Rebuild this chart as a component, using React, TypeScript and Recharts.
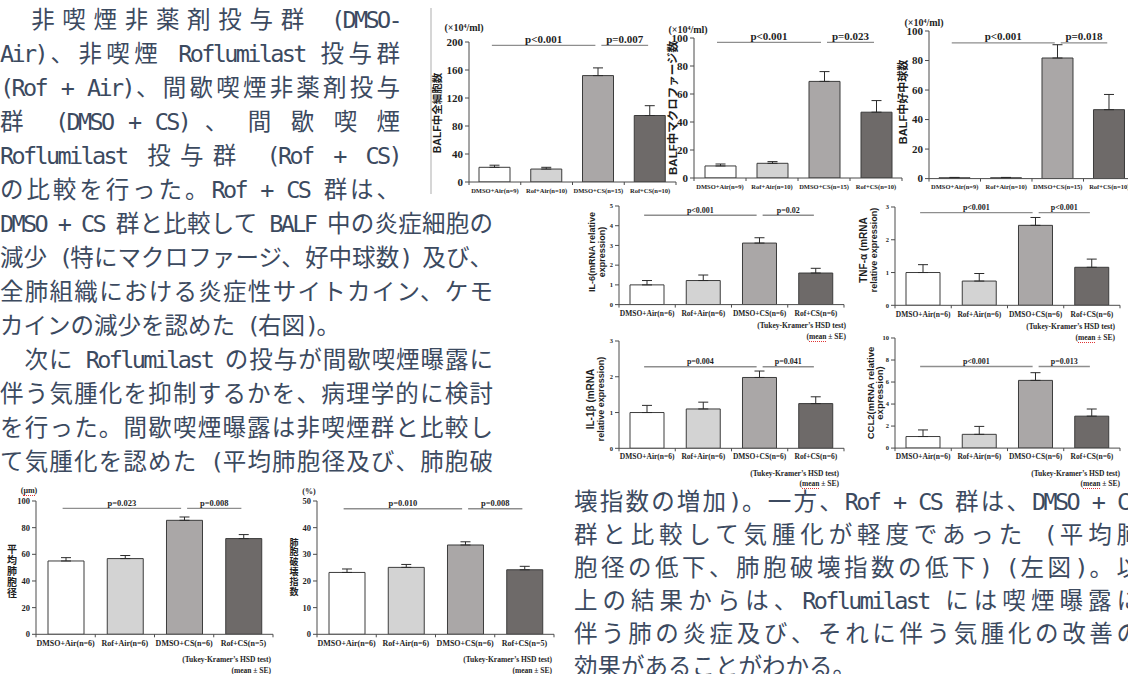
import React from 'react';
import { BarChart, Bar, XAxis, YAxis, Cell, ErrorBar, ReferenceLine } from 'recharts';

// ---------- data ----------
const balfGroups = ['DMSO+Air(n=9)', 'Rof+Air(n=10)', 'DMSO+CS(n=15)', 'Rof+CS(n=10)'];
const balfTotal = [21, 18.5, 152, 95];
const balfTotalSE = [3, 2.5, 11, 14];
const balfTotalTicks = [0, 40, 80, 120, 160, 200];
const balfMacro = [8.6, 10.5, 69, 47];
const balfMacroSE = [1.4, 1.2, 7, 8.3];
const balfNeutro = [0.6, 0.6, 81.7, 46.7];
const balfNeutroSE = [0.2, 0.2, 9, 10.3];
const balfCountTicks = [0, 20, 40, 60, 80, 100];

const mrnaGroups = ['DMSO+Air(n=6)', 'Rof+Air(n=6)', 'DMSO+CS(n=6)', 'Rof+CS(n=6)'];
const il6 = [1.0, 1.22, 3.12, 1.6];
const il6SE = [0.22, 0.28, 0.27, 0.24];
const il6Ticks = [0, 1, 2, 3, 4, 5];
const tnfa = [1.0, 0.74, 2.44, 1.16];
const tnfaSE = [0.24, 0.23, 0.24, 0.25];
const tnfaTicks = [0, 1, 2, 3];
const il1b = [1.0, 1.1, 1.98, 1.25];
const il1bSE = [0.2, 0.19, 0.18, 0.19];
const il1bTicks = [0, 1, 2, 3];
const ccl2 = [1.05, 1.25, 6.15, 2.9];
const ccl2SE = [0.6, 0.72, 0.7, 0.65];
const ccl2Ticks = [0, 2, 4, 6, 8, 10];

const histGroups = ['DMSO+Air(n=6)', 'Rof+Air(n=6)', 'DMSO+CS(n=6)', 'Rof+CS(n=5)'];
const meanLinearIntercept = [55, 56.8, 85.5, 71.8];
const meanLinearInterceptSE = [2.5, 2.3, 2.5, 3];
const mliTicks = [0, 20, 40, 60, 80, 100];
const destructiveIndex = [23.2, 25.1, 33.5, 24.2];
const destructiveIndexSE = [1.3, 1.1, 1.2, 1.3];
const diTicks = [0, 10, 20, 30, 40, 50];

const pTotal = ['p<0.001', 'p=0.007'];
const pMacro = ['p<0.001', 'p=0.023'];
const pNeutro = ['p<0.001', 'p=0.018'];
const pIl6 = ['p<0.001', 'p=0.02'];
const pTnfa = ['p<0.001', 'p<0.001'];
const pIl1b = ['p=0.004', 'p=0.041'];
const pCcl2 = ['p<0.001', 'p=0.013'];
const pMli = ['p=0.023', 'p=0.008'];
const pDi = ['p=0.010', 'p=0.008'];

const introLines = [
  '　非喫煙非薬剤投与群 (DMSO-',
  'Air)、非喫煙 Roflumilast 投与群',
  '(Rof + Air)、間歇喫煙非薬剤投与',
  '群　(DMSO + CS) 、 間 歇 喫 煙',
  'Roflumilast 投与群 (Rof + CS)',
  'の比較を行った。Rof + CS 群は、',
];
const middleLines = [
  'DMSO + CS 群と比較して BALF 中の炎症細胞の',
  '減少 (特にマクロファージ、好中球数) 及び、',
  '全肺組織における炎症性サイトカイン、ケモ',
  'カインの減少を認めた (右図)。',
  '　次に Roflumilast の投与が間歇喫煙曝露に',
  '伴う気腫化を抑制するかを、病理学的に検討',
  'を行った。間歇喫煙曝露は非喫煙群と比較し',
  'て気腫化を認めた (平均肺胞径及び、肺胞破',
];
const closingLines = [
  '壊指数の増加)。一方、Rof + CS 群は、DMSO + CS',
  '群と比較して気腫化が軽度であった (平均肺',
  '胞径の低下、肺胞破壊指数の低下) (左図)。以',
  '上の結果からは、Roflumilast には喫煙曝露に',
  '伴う肺の炎症及び、それに伴う気腫化の改善の',
  '効果があることがわかる。',
];

// ---------- styles ----------
const BAR_FILLS = ['#ffffff', '#d3d3d3', '#aaa7a7', '#6e6a69'];
const INK = '#3c4a5f';
const AXIS = '#4a4a4a';
const SERIF = "'Liberation Serif', 'Times New Roman', serif";
const SANS = "'Liberation Sans', Arial, 'Noto Sans CJK JP', sans-serif";
const BODY = "'Noto Sans CJK JP', sans-serif";
const BODY_SIZE = 23.5;
const LATIN: React.CSSProperties = { fontFamily: "'DejaVu Sans Mono', monospace", letterSpacing: '-2.65px' };

type Box = { x0: number; x1: number; yTop: number; yZero: number };
type PanelProps = {
  groups: string[];
  values: number[];
  errors: number[];
  ticks: number[];
  pTexts: string[];
  pAt: number;
  box: Box;
  barSize: number;
  tickFont: number;
  catFont: number;
  catGap: number;
  pFont: number;
};

function CategoryTick(props: any) {
  const { x, y, payload, band, count, size, gap } = props;
  const idx = payload && typeof payload.index === 'number' ? payload.index : props.index;
  return (
    <g>
      <line x1={x - band / 2} y1={y} x2={x - band / 2} y2={y + 3} stroke={AXIS} />
      {idx === count - 1 && <line x1={x + band / 2} y1={y} x2={x + band / 2} y2={y + 3} stroke={AXIS} />}
      <text
        x={x}
        y={y + gap}
        textAnchor="middle"
        dominantBaseline="central"
        fontFamily={SERIF}
        fontWeight={700}
        fontSize={size}
        fill="#1e1e1e"
      >
        {payload.value}
      </text>
    </g>
  );
}

function Bracket(props: any) {
  const { x1, y1, x2, text, size, padL, padR } = props;
  const a = x1 + padL;
  const b = x2 + padR;
  return (
    <g>
      <line x1={a} y1={y1} x2={b} y2={y1} stroke="#8e8e8e" strokeWidth={1.3} />
      <text x={(a + b) / 2} y={y1 - 2.5} textAnchor="middle" fontFamily={SERIF} fontWeight={700} fontSize={size} fill="#1e1e1e">
        {text}
      </text>
    </g>
  );
}

function Panel(p: PanelProps) {
  const ML = 44;
  const MR = 14;
  const MT = 44;
  const MB = 24;
  const { x0, x1, yTop, yZero } = p.box;
  const width = x1 - x0 + ML + MR;
  const height = yZero - yTop + MT + MB;
  const band = (x1 - x0) / p.groups.length;
  const data = p.groups.map((name, i) => ({ name, value: p.values[i], err: [0, p.errors[i]] }));
  const max = p.ticks[p.ticks.length - 1];
  const spans = [
    [0, 2, -3, -3],
    [2, 3, 3, -2],
  ];
  return (
    <div style={{ position: 'absolute', left: x0 - ML, top: yTop - MT, width, height }}>
      <BarChart width={width} height={height} data={data} margin={{ top: MT, right: MR, bottom: 0, left: 0 }}>
        <XAxis
          dataKey="name"
          type="category"
          interval={0}
          height={MB}
          tickSize={0}
          tickMargin={0}
          tickLine={false}
          axisLine={{ stroke: AXIS, strokeWidth: 1 }}
          tick={(t: any) => (
            <CategoryTick {...t} band={band} count={p.groups.length} size={p.catFont} gap={p.catGap} />
          )}
        />
        <YAxis
          type="number"
          domain={[0, max]}
          ticks={p.ticks}
          interval={0}
          width={ML}
          allowDataOverflow
          tickSize={4}
          tickMargin={2}
          axisLine={{ stroke: AXIS }}
          tickLine={{ stroke: AXIS }}
          tick={{ fontSize: p.tickFont, fontFamily: SERIF, fontWeight: 700, fill: '#1e1e1e' }}
        />
        <Bar dataKey="value" barSize={p.barSize} isAnimationActive={false} stroke="#3b3b3b" strokeWidth={1}>
          {data.map((_, i) => (
            <Cell key={i} fill={BAR_FILLS[i]} />
          ))}
          <ErrorBar dataKey="err" width={5} stroke="#2a2a2a" strokeWidth={1} />
        </Bar>
        {spans.map(([from, to, padL, padR], i) => (
          <ReferenceLine
            key={i}
            ifOverflow="visible"
            segment={[
              { x: p.groups[from], y: p.pAt },
              { x: p.groups[to], y: p.pAt },
            ]}
            shape={(s: any) => <Bracket {...s} text={p.pTexts[i]} size={p.pFont} padL={padL} padR={padR} />}
          />
        ))}
      </BarChart>
    </div>
  );
}

// ---------- overlay text helpers ----------
function Label(props: {
  x: number;
  y: number;
  size: number;
  children: React.ReactNode;
  anchor?: 'start' | 'middle' | 'end';
  rotate?: number;
  family?: string;
  lineHeight?: number;
}) {
  const { x, y, size, anchor = 'middle', rotate = 0, family = SERIF, lineHeight } = props;
  const tx = anchor === 'middle' ? '-50%' : anchor === 'end' ? '-100%' : '0';
  return (
    <div
      style={{
        position: 'absolute',
        left: x,
        top: y,
        transform: `translate(${tx}, -50%) rotate(${rotate}deg)`,
        fontFamily: family,
        fontWeight: 700,
        fontSize: size,
        lineHeight: lineHeight ? `${lineHeight}px` : 1.1,
        color: '#1e1e1e',
        whiteSpace: 'nowrap',
        textAlign: 'center',
      }}
    >
      {props.children}
    </div>
  );
}

// upright characters stacked top to bottom, one text block
function VerticalLabel({ x, y, size, pitch, text }: { x: number; y: number; size: number; pitch: number; text: string }) {
  const chars = Array.from(text);
  const h = chars.length * pitch;
  return (
    <div
      style={{
        position: 'absolute',
        left: x - size / 2 - 2,
        top: y - h / 2,
        width: size + 4,
        whiteSpace: 'pre-line',
        lineHeight: `${pitch}px`,
        textAlign: 'center',
        fontFamily: BODY,
        fontWeight: 700,
        fontSize: size,
        color: '#1e1e1e',
      }}
    >
      {chars.join('\n')}
    </div>
  );
}

function Footnote({ right, y }: { right: number; y: number }) {
  return (
    <>
      <Label x={right} y={y} size={7.5} anchor="end">
        (Tukey-Kramer’s HSD test)
      </Label>
      <Label x={right} y={y + 10.5} size={7.5} anchor="end">
        (mean ± SE)
      </Label>
      <div
        style={{
          position: 'absolute',
          left: right - 37,
          top: y + 14.5,
          width: 17,
          height: 0,
          borderTop: '1px dotted #e03434',
        }}
      />
    </>
  );
}

function mixedRuns(s: string) {
  return s.split(/([\x20-\x7e]+)/).map((t, i) =>
    t === '' ? null : /^[\x20-\x7e]+$/.test(t) ? (
      <span key={i} style={LATIN}>
        {t}
      </span>
    ) : (
      <span key={i}>{t}</span>
    )
  );
}

function BodyLine({ x, y, w, text, last }: { x: number; y: number; w: number; text: string; last?: boolean }) {
  return (
    <div
      style={{
        position: 'absolute',
        left: x,
        top: y - 17,
        width: w,
        height: 34,
        lineHeight: '34px',
        fontSize: BODY_SIZE,
        fontFamily: BODY,
        color: INK,
        textAlign: last ? 'left' : 'justify',
        textAlignLast: last ? 'left' : 'justify',
      }}
    >
      {mixedRuns(text)}
    </div>
  );
}

export default function App() {
  return (
    <div
      style={{
        position: 'fixed',
        left: 0,
        top: 0,
        width: 1128,
        height: 674,
        overflow: 'hidden',
        background: '#ffffff',
      }}
    >
      {introLines.map((t, i) => (
        <BodyLine key={'a' + i} x={0} y={18 + 34 * i} w={400} text={t} />
      ))}
      {middleLines.map((t, i) => (
        <BodyLine key={'b' + i} x={0} y={222 + 34 * i} w={493} text={t} last={i === 3} />
      ))}
      {closingLines.map((t, i) => (
        <BodyLine key={'c' + i} x={574} y={500 + 33 * i} w={566} text={t} last={i === closingLines.length - 1} />
      ))}

      <div style={{ position: 'absolute', left: 430, top: 8, width: 2, height: 186, background: '#d6d6d6' }} />

      {/* BALF cell counts */}
      <Panel groups={balfGroups} values={balfTotal} errors={balfTotalSE} ticks={balfTotalTicks} pTexts={pTotal} pAt={195.3}
        box={{ x0: 469, x1: 676, yTop: 41.7, yZero: 181.7 }} barSize={31} tickFont={11} catFont={6.5} catGap={8} pFont={11} />
      <Panel groups={balfGroups} values={balfMacro} errors={balfMacroSE} ticks={balfCountTicks} pTexts={pMacro} pAt={96.9}
        box={{ x0: 694, x1: 902, yTop: 38.3, yZero: 178.3 }} barSize={31} tickFont={11} catFont={6.5} catGap={8} pFont={11} />
      <Panel groups={balfGroups} values={balfNeutro} errors={balfNeutroSE} ticks={balfCountTicks} pTexts={pNeutro} pAt={91.9}
        box={{ x0: 929, x1: 1135, yTop: 30.7, yZero: 178.3 }} barSize={31} tickFont={11} catFont={6.5} catGap={8} pFont={11} />

      {/* cytokine / chemokine mRNA */}
      <Panel groups={mrnaGroups} values={il6} errors={il6SE} ticks={il6Ticks} pTexts={pIl6} pAt={4.53}
        box={{ x0: 619, x1: 844, yTop: 205.7, yZero: 304.3 }} barSize={34} tickFont={6.5} catFont={7.5} catGap={9} pFont={8} />
      <Panel groups={mrnaGroups} values={tnfa} errors={tnfaSE} ticks={tnfaTicks} pTexts={pTnfa} pAt={2.83}
        box={{ x0: 895, x1: 1120, yTop: 206.7, yZero: 305 }} barSize={34} tickFont={6.5} catFont={7.5} catGap={9} pFont={8} />
      <Panel groups={mrnaGroups} values={il1b} errors={il1bSE} ticks={il1bTicks} pTexts={pIl1b} pAt={2.28}
        box={{ x0: 619, x1: 844, yTop: 341, yZero: 448.3 }} barSize={34} tickFont={6.5} catFont={7.5} catGap={8} pFont={8} />
      <Panel groups={mrnaGroups} values={ccl2} errors={ccl2SE} ticks={ccl2Ticks} pTexts={pCcl2} pAt={7.41}
        box={{ x0: 895, x1: 1120, yTop: 338.2, yZero: 448.3 }} barSize={34} tickFont={6.5} catFont={7.5} catGap={8} pFont={8} />

      {/* emphysema morphometry */}
      <Panel groups={histGroups} values={meanLinearIntercept} errors={meanLinearInterceptSE} ticks={mliTicks} pTexts={pMli} pAt={94.5}
        box={{ x0: 36, x1: 273, yTop: 500.7, yZero: 634 }} barSize={36} tickFont={8.5} catFont={8} catGap={9} pFont={8.5} />
      <Panel groups={histGroups} values={destructiveIndex} errors={destructiveIndexSE} ticks={diTicks} pTexts={pDi} pAt={47.1}
        box={{ x0: 317, x1: 554, yTop: 500.7, yZero: 634 }} barSize={36} tickFont={8.5} catFont={8} catGap={9} pFont={8.5} />

      {/* units */}
      <Label x={464} y={27} size={10}>(×10⁴/ml)</Label>
      <Label x={688} y={29} size={10}>(×10⁴/ml)</Label>
      <Label x={924} y={21.5} size={10}>(×10⁴/ml)</Label>
      <Label x={29} y={491} size={8}>(μm)</Label>
      <div style={{ position: 'absolute', left: 23, top: 495, width: 12, height: 0, borderTop: '1px dotted #e03434' }} />
      <Label x={309} y={492} size={8}>(%)</Label>

      {/* axis titles */}
      <Label x={438} y={113} size={10.5} rotate={-90} family={SANS}>BALF中全細胞数</Label>
      <Label x={673} y={108} size={11.5} rotate={-90} family={SANS}>BALF中マクロファージ数</Label>
      <Label x={903} y={102} size={11} rotate={-90} family={SANS}>BALF中好中球数</Label>
      <Label x={596.7} y={252} size={9} rotate={-90} family={SANS} lineHeight={10}>
        IL-6(mRNA relative
        <br />
        expression)
      </Label>
      <Label x={869} y={250} size={9} rotate={-90} family={SANS} lineHeight={9.5}>
        <span style={{ fontSize: 10 }}>TNF-α (mRNA</span>
        <br />
        relative expression)
      </Label>
      <Label x={595.5} y={399} size={9} rotate={-90} family={SANS} lineHeight={10}>
        <span style={{ fontSize: 10 }}>IL-1β (mRNA</span>
        <br />
        relative expression)
      </Label>
      <Label x={874.5} y={393} size={9.5} rotate={-90} family={SANS} lineHeight={9}>
        CCL2(mRNA relative
        <br />
        expression)
      </Label>
      <VerticalLabel x={12} y={570} size={10} pitch={11} text="平均肺胞径" />
      <VerticalLabel x={294} y={567} size={9} pitch={9.8} text="肺胞破壊指数" />

      {/* test notes */}
      <Footnote right={846} y={326} />
      <Footnote right={1115} y={327} />
      <Footnote right={839} y={473.5} />
      <Footnote right={1120} y={473.5} />
      <Footnote right={271} y={660} />
      <Footnote right={552} y={660} />
    </div>
  );
}
